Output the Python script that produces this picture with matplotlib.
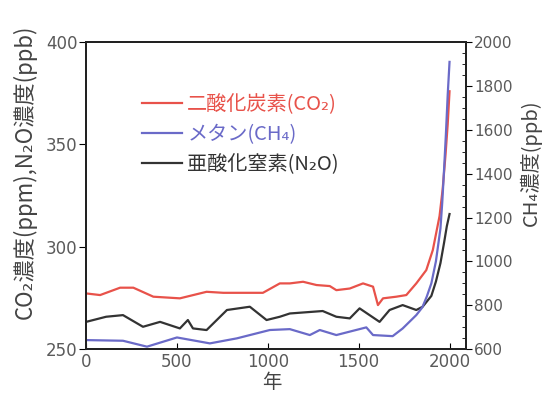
import matplotlib
matplotlib.use("Agg")
import matplotlib.pyplot as plt
from matplotlib.ticker import MultipleLocator

plt.rcParams['font.family'] = ['Noto Sans CJK JP', 'DejaVu Sans']

# ---- data ----
years_co2 = [0, 77, 187, 260, 370, 516, 663, 755, 973, 1066, 1121, 1194, 1268, 1341, 1377,
             1451, 1524, 1579, 1606, 1634, 1707, 1762, 1817, 1872, 1908, 1945, 1962, 1978, 1990, 2000]
co2 = [277.2, 276.4, 280.0, 280.0, 275.6, 274.8, 278.0, 277.5, 277.5, 282.1, 282.1, 282.9, 281.3,
       280.8, 278.8, 279.6, 282.1, 280.5, 271.5, 274.8, 275.6, 276.4, 282.1, 288.6, 298.4, 315.0,
       328.0, 345.0, 360.0, 376.0]

years_ch4 = [0, 203, 335, 500, 681, 830, 1011, 1121, 1231, 1286, 1377, 1542, 1579, 1687, 1742,
             1817, 1850, 1875, 1900, 1925, 1950, 1960, 1970, 1980, 1990, 2000]
ch4 = [641, 638, 611, 653, 626, 649, 687, 691, 664, 687, 664, 699, 664, 659, 694,
       755, 790, 840, 900, 1000, 1150, 1270, 1420, 1580, 1760, 1910]

years_n2o = [0, 110, 203, 313, 407, 516, 560, 588, 663, 775, 901, 993, 1066, 1121, 1302, 1377,
             1451, 1505, 1560, 1615, 1670, 1742, 1817, 1852, 1900, 1925, 1950, 1970, 1985, 2000]
n2o = [263.3, 265.8, 266.6, 260.9, 263.3, 260.1, 264.2, 260.1, 259.3, 269.1, 270.7, 264.2, 265.8,
       267.4, 268.6, 265.8, 265.0, 269.9, 266.6, 263.3, 269.1, 271.5, 269.1, 270.7, 276.0, 283.0,
       292.0, 302.0, 310.0, 316.0]

labels = ['二酸化炭素(CO₂)', 'メタン(CH₄)', '亜酸化窒素(N₂O)']
x_ticks = [0, 500, 1000, 1500, 2000]
left_ticks = [250, 300, 350, 400]
right_ticks = [600, 800, 1000, 1200, 1400, 1600, 1800, 2000]

c_red = '#e8524a'
c_blue = '#6a6ac8'
c_black = '#333333'
c_text = '#5a5a5a'

fig = plt.figure(figsize=(5.52, 3.94), dpi=100)
ax = fig.add_axes([0.156, 0.114, 0.688, 0.779])
ax2 = ax.twinx()

l1, = ax.plot(years_co2, co2, color=c_red, lw=1.6)
l3, = ax.plot(years_n2o, n2o, color=c_black, lw=1.6)
l2, = ax2.plot(years_ch4, ch4, color=c_blue, lw=1.6)

ax.set_xlim(0, 2090)
ax.set_ylim(250, 400)
ax2.set_ylim(600, 2000)

ax.set_xticks(x_ticks)
ax.set_yticks(left_ticks)
ax2.set_yticks(right_ticks)
ax2.yaxis.set_minor_locator(MultipleLocator(50))

for a in (ax, ax2):
    for s in a.spines.values():
        s.set_linewidth(1.4)
        s.set_color('#222222')

tick_font = 'DejaVu Sans'
ax.tick_params(axis='x', direction='in', length=4, labelsize=12, labelcolor=c_text, pad=3)
ax.tick_params(axis='y', direction='out', length=5, labelsize=12, labelcolor=c_text, pad=1)
ax2.tick_params(axis='y', which='major', direction='out', length=4, labelsize=11, labelcolor=c_text, pad=2)
ax2.tick_params(axis='y', which='minor', direction='in', length=3)
for lab in ax.get_xticklabels() + ax.get_yticklabels() + ax2.get_yticklabels():
    lab.set_fontfamily(tick_font)

leg = ax.legend([l1, l2, l3], labels, loc='upper left', bbox_to_anchor=(0.147, 0.832),
                frameon=False, fontsize=14.5, handlelength=2.0, handletextpad=0.25,
                labelspacing=0.45, borderpad=0, borderaxespad=0,
                labelcolor=[c_red, c_blue, c_black])

fig.text(0.045, 0.563, 'CO₂濃度(ppm),N₂O濃度(ppb)', rotation=90, ha='center', va='center',
         fontsize=16, color='#444444')
fig.text(0.962, 0.586, 'CH₄濃度(ppb)', rotation=90, ha='center', va='center',
         fontsize=14.5, color='#444444')
fig.text(0.493, 0.028, '年', ha='center', va='center', fontsize=14, color='#444444')

fig.savefig('out.png', dpi=100)
